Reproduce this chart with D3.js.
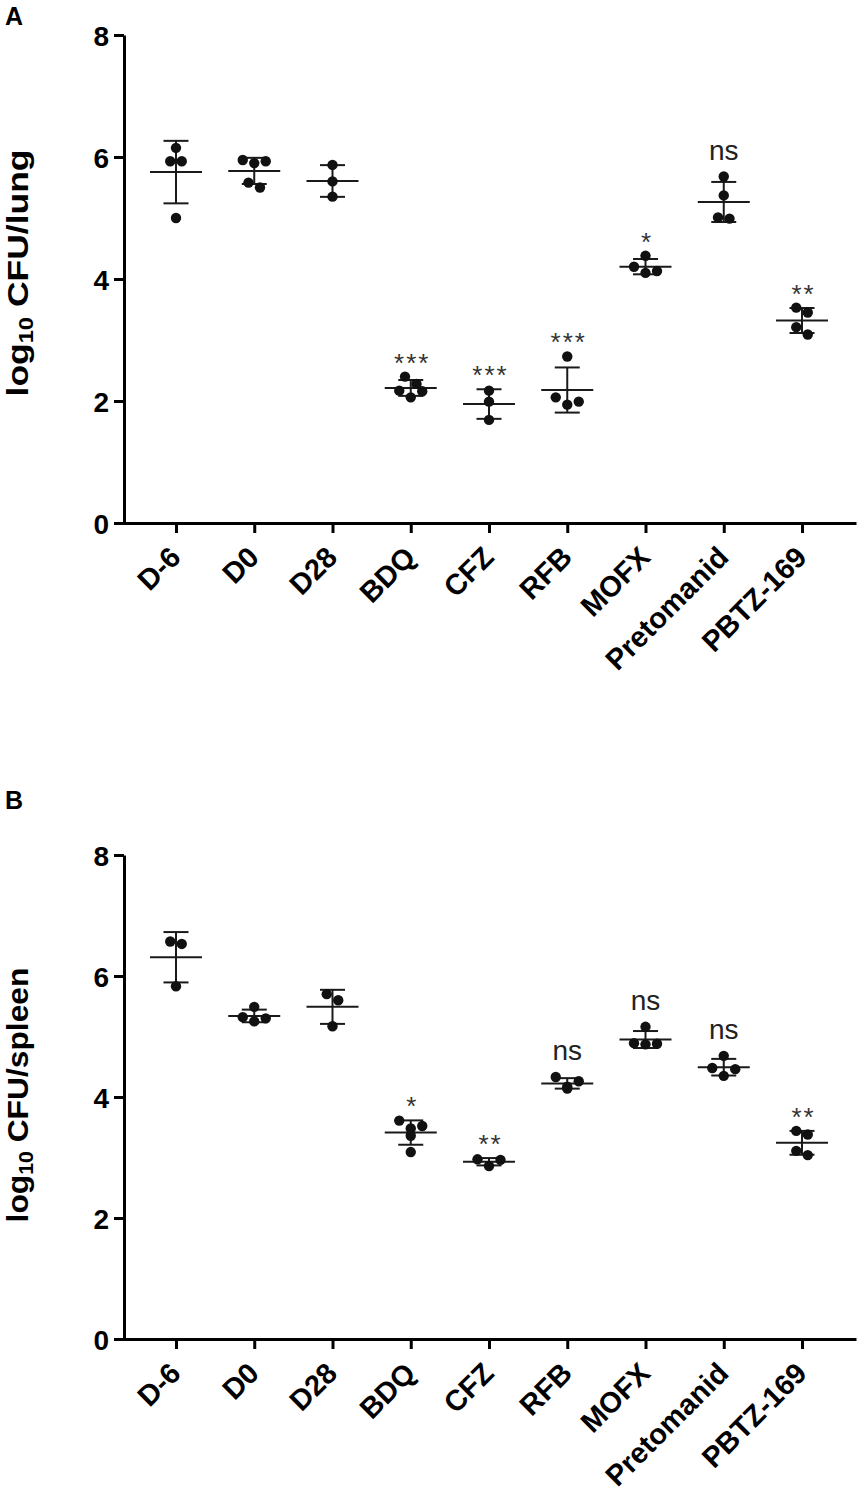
<!DOCTYPE html>
<html>
<head>
<meta charset="utf-8">
<style>
  body { margin: 0; background: #fff; }
  svg { display: block; font-family: 'Liberation Sans', Arial, Helvetica, sans-serif; }
</style>
</head>
<body>
<div id="diagram"></div>
<script src="https://cdn.jsdelivr.net/npm/d3@7"></script>
<script>
// data
const categories = ['D-6', 'D0', 'D28', 'BDQ', 'CFZ', 'RFB', 'MOFX', 'Pretomanid', 'PBTZ-169'];
const yTicks = [0, 2, 4, 6, 8];

const lungValues = [
  [6.15, 5.93, 5.93, 5.00],
  [5.95, 5.93, 5.90, 5.58, 5.50],
  [5.87, 5.60, 5.35],
  [2.40, 2.28, 2.17, 2.16, 2.06],
  [2.17, 1.99, 1.69],
  [2.73, 2.06, 1.99, 1.94],
  [4.38, 4.20, 4.13, 4.10],
  [5.68, 5.37, 5.01, 4.99],
  [3.53, 3.45, 3.21, 3.09]
];
const lungSig = ['', '', '', '***', '***', '***', '*', 'ns', '**'];

const spleenValues = [
  [6.57, 6.53, 5.83],
  [5.49, 5.32, 5.30, 5.25],
  [5.70, 5.60, 5.17],
  [3.61, 3.52, 3.48, 3.36, 3.09],
  [2.97, 2.96, 2.86],
  [4.33, 4.26, 4.17, 4.14],
  [5.16, 4.89, 4.88, 4.87],
  [4.68, 4.48, 4.46, 4.35],
  [3.44, 3.38, 3.11, 3.04]
];
const spleenSig = ['', '', '', '*', '**', 'ns', 'ns', 'ns', '**'];

!(function () {
  'use strict';
  // - - - - - - - - - -
  // declaration
  let
    canvas = undefined,
    svg = undefined,
    xScale = undefined,
    setCanvas = undefined,
    setXScale = undefined,
    swarm = undefined,
    drawPanel = undefined;

  canvas = {
    width: 862,
    height: 1496,
    axisX: 124,
    xRange: { start: 122, end: 856 }
  };

  // methods
  setCanvas = function (contextSelector) {
    svg = d3.select(contextSelector)
      .append('svg')
      .attr('width', canvas.width)
      .attr('height', canvas.height)
      .attr('viewBox', '0 0 ' + canvas.width + ' ' + canvas.height);
  };

  setXScale = function () {
    xScale = d3.scalePoint()
      .domain(categories)
      .range([canvas.xRange.start, canvas.xRange.end])
      .padding(0.69);
  };

  // rows of nearly equal values get spread sideways, like a scatter dot plot
  swarm = function (vals, yScale) {
    let sorted = vals.slice().sort((a, b) => b - a),
      rows = [],
      out = [],
      step = 11.5;
    sorted.forEach(function (v) {
      let row = rows[rows.length - 1];
      if (row && Math.abs(yScale(v) - yScale(row[0])) < 10) row.push(v);
      else rows.push([v]);
    });
    rows.forEach(function (row) {
      let n = row.length, order = row.slice();
      if (n % 2 === 1 && n > 1) {
        // lowest sits in the middle, the others alternate left / right
        let low = order.pop();
        order.forEach(function (v, i) {
          let k = Math.floor(i / 2) + 1;
          out.push({ v: v, dx: (i % 2 === 0 ? -1 : 1) * k * step });
        });
        out.push({ v: low, dx: 0 });
      } else if (n === 1) {
        out.push({ v: row[0], dx: 0 });
      } else {
        order.forEach(function (v, i) {
          let k = Math.floor(i / 2) + 0.5;
          out.push({ v: v, dx: (i % 2 === 0 ? -1 : 1) * k * step });
        });
      }
    });
    return out;
  };

  drawPanel = function (cfg) {
    let yScale = d3.scaleLinear().domain([0, 8]).range([cfg.bottom, cfg.top]),
      g = svg.append('g'),
      yAxis = undefined,
      xAxis = undefined,
      label = undefined,
      len = undefined;

    // panel letter
    g.append('text')
      .attr('x', 5)
      .attr('y', cfg.letterY)
      .attr('font-size', 25)
      .attr('font-weight', 'bold')
      .text(cfg.letter);

    // y axis
    yAxis = g.append('g')
      .attr('transform', 'translate(' + canvas.axisX + ', 0)')
      .call(d3.axisLeft(yScale).tickValues(yTicks).tickSize(10).tickSizeOuter(0).tickPadding(5));

    // x axis
    xAxis = g.append('g')
      .attr('transform', 'translate(0, ' + cfg.bottom + ')')
      .call(d3.axisBottom(xScale).tickSize(10).tickSizeOuter(0));

    [yAxis, xAxis].forEach(function (a) {
      a.select('.domain').attr('stroke', '#000').attr('stroke-width', 3);
      a.selectAll('.tick line').attr('stroke', '#000').attr('stroke-width', 3);
      a.selectAll('.tick text')
        .attr('fill', '#000')
        .attr('font-weight', 'bold')
        .attr('font-family', null);
    });
    yAxis.selectAll('.tick text').attr('font-size', 28).attr('dy', '0.36em');
    xAxis.selectAll('.tick text')
      .attr('font-size', 29)
      .attr('x', 0).attr('y', 0).attr('dy', 0)
      .attr('text-anchor', 'end')
      .attr('transform', 'translate(6, 36) rotate(-45)');

    // y axis title, stretched along its length as in the figure
    label = g.append('text')
      .attr('text-anchor', 'middle')
      .attr('font-size', 30)
      .attr('font-weight', 'bold');
    label.append('tspan').text('log');
    label.append('tspan').attr('font-size', 20).attr('dy', 5).text('10');
    label.append('tspan').attr('dy', -5).text(' CFU/' + cfg.organ);
    len = label.node().getComputedTextLength();
    label.attr('transform', 'translate(28, ' + cfg.labelY + ') rotate(-90) scale(' + (cfg.labelLength / len) + ', 1)');

    // groups
    categories.forEach(function (cat, i) {
      let vals = cfg.values[i],
        cx = xScale(cat),
        mean = d3.mean(vals),
        sd = d3.deviation(vals),
        grp = g.append('g'),
        topVal = Math.max(d3.max(vals), mean + sd),
        sig = cfg.sig[i];

      grp.append('line')
        .attr('x1', cx).attr('x2', cx)
        .attr('y1', yScale(mean - sd)).attr('y2', yScale(mean + sd))
        .attr('stroke', '#1a1a1a').attr('stroke-width', 2);
      [mean - sd, mean + sd].forEach(function (v) {
        grp.append('line')
          .attr('x1', cx - 12.5).attr('x2', cx + 12.5)
          .attr('y1', yScale(v)).attr('y2', yScale(v))
          .attr('stroke', '#1a1a1a').attr('stroke-width', 2);
      });
      grp.append('line')
        .attr('x1', cx - 26).attr('x2', cx + 26)
        .attr('y1', yScale(mean)).attr('y2', yScale(mean))
        .attr('stroke', '#1a1a1a').attr('stroke-width', 2);

      grp.selectAll('circle')
        .data(swarm(vals, yScale))
        .join('circle')
        .attr('cx', d => cx + d.dx)
        .attr('cy', d => yScale(d.v))
        .attr('r', 5.2)
        .attr('fill', '#111');

      if (sig === 'ns') {
        grp.append('text')
          .attr('x', cx).attr('y', yScale(topVal) - 17)
          .attr('text-anchor', 'middle')
          .attr('font-size', 28)
          .attr('fill', '#222')
          .text(sig);
      } else if (sig) {
        grp.append('text')
          .attr('x', cx + 1.5).attr('y', yScale(topVal) - 5)
          .attr('text-anchor', 'middle')
          .attr('font-size', 26)
          .attr('letter-spacing', 2)
          .attr('fill', '#333')
          .text(sig);
      }
    });
  };

  // control
  setCanvas('#diagram');
  setXScale();
  drawPanel({ letter: 'A', letterY: 25, top: 35, bottom: 523, labelY: 273, labelLength: 247, organ: 'lung', values: lungValues, sig: lungSig });
  drawPanel({ letter: 'B', letterY: 809, top: 855, bottom: 1339, labelY: 1095, labelLength: 255, organ: 'spleen', values: spleenValues, sig: spleenSig });
  // - - - - - - - - - -
}());
</script>
</body>
</html>
